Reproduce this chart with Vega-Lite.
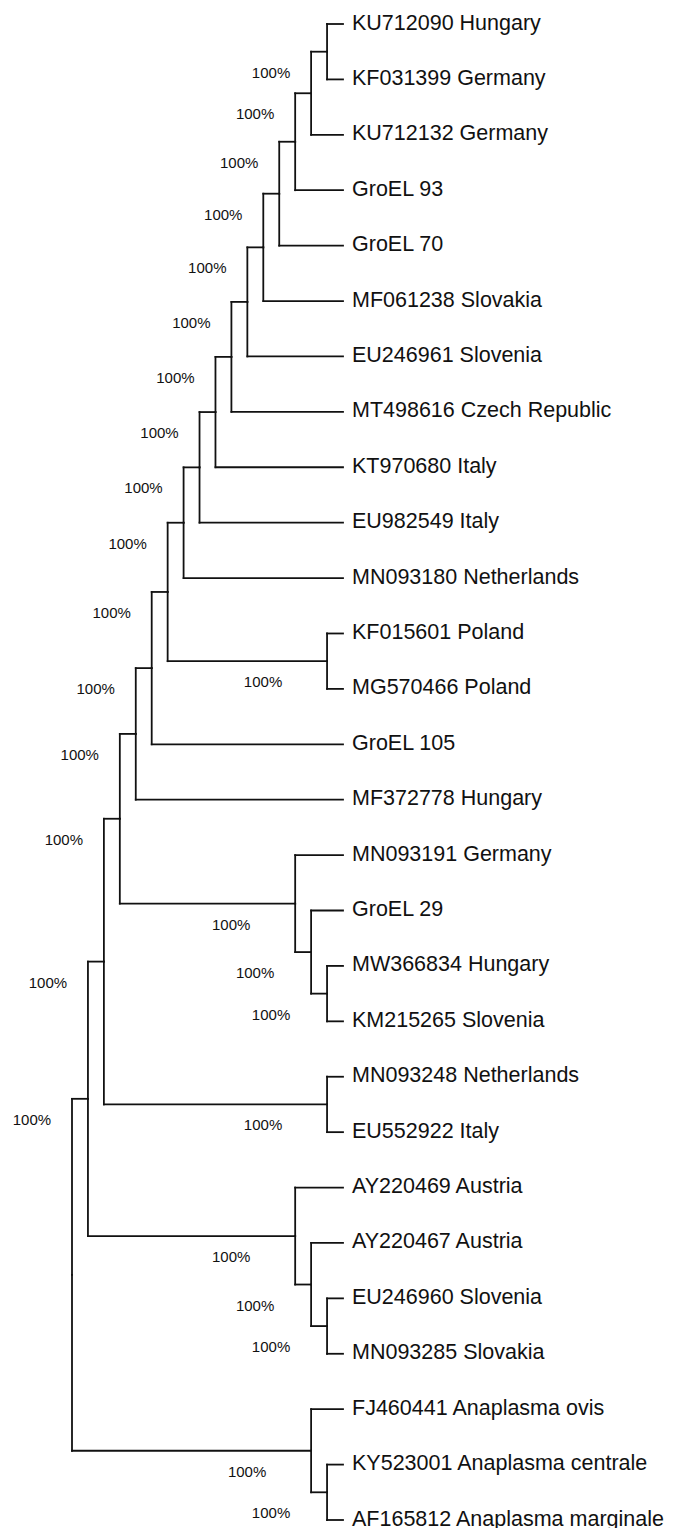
{
  "$schema": "https://vega.github.io/schema/vega-lite/v6.json",
  "width": 271,
  "height": 1496,
  "autosize": "none",
  "padding": {"left": 72, "top": 24, "right": 331, "bottom": 8},
  "background": "white",
  "config": {"view": {"stroke": null}},
  "data": {
    "values": [
      {"id": "KU712090", "name": "KU712090 Hungary", "type": "leaf", "level": 17, "row": 0, "pLevel": 16, "pRow": 0.5},
      {"id": "KF031399", "name": "KF031399 Germany", "type": "leaf", "level": 17, "row": 1, "pLevel": 16, "pRow": 0.5},
      {"id": "KU712132", "name": "KU712132 Germany", "type": "leaf", "level": 17, "row": 2, "pLevel": 15, "pRow": 1.25},
      {"id": "GroEL93", "name": "GroEL 93", "type": "leaf", "level": 17, "row": 3, "pLevel": 14, "pRow": 2.125},
      {"id": "GroEL70", "name": "GroEL 70", "type": "leaf", "level": 17, "row": 4, "pLevel": 13, "pRow": 3.0625},
      {"id": "MF061238", "name": "MF061238 Slovakia", "type": "leaf", "level": 17, "row": 5, "pLevel": 12, "pRow": 4.03125},
      {"id": "EU246961", "name": "EU246961 Slovenia", "type": "leaf", "level": 17, "row": 6, "pLevel": 11, "pRow": 5.015625},
      {"id": "MT498616", "name": "MT498616 Czech Republic", "type": "leaf", "level": 17, "row": 7, "pLevel": 10, "pRow": 6.0078},
      {"id": "KT970680", "name": "KT970680 Italy", "type": "leaf", "level": 17, "row": 8, "pLevel": 9, "pRow": 7.0039},
      {"id": "EU982549", "name": "EU982549 Italy", "type": "leaf", "level": 17, "row": 9, "pLevel": 8, "pRow": 8.00195},
      {"id": "MN093180", "name": "MN093180 Netherlands", "type": "leaf", "level": 17, "row": 10, "pLevel": 7, "pRow": 9.00098},
      {"id": "KF015601", "name": "KF015601 Poland", "type": "leaf", "level": 17, "row": 11, "pLevel": 16, "pRow": 11.5},
      {"id": "MG570466", "name": "MG570466 Poland", "type": "leaf", "level": 17, "row": 12, "pLevel": 16, "pRow": 11.5},
      {"id": "GroEL105", "name": "GroEL 105", "type": "leaf", "level": 17, "row": 13, "pLevel": 5, "pRow": 11.6252},
      {"id": "MF372778", "name": "MF372778 Hungary", "type": "leaf", "level": 17, "row": 14, "pLevel": 4, "pRow": 12.8126},
      {"id": "MN093191", "name": "MN093191 Germany", "type": "leaf", "level": 17, "row": 15, "pLevel": 14, "pRow": 15.875},
      {"id": "GroEL29", "name": "GroEL 29", "type": "leaf", "level": 17, "row": 16, "pLevel": 15, "pRow": 16.75},
      {"id": "MW366834", "name": "MW366834 Hungary", "type": "leaf", "level": 17, "row": 17, "pLevel": 16, "pRow": 17.5},
      {"id": "KM215265", "name": "KM215265 Slovenia", "type": "leaf", "level": 17, "row": 18, "pLevel": 16, "pRow": 17.5},
      {"id": "MN093248", "name": "MN093248 Netherlands", "type": "leaf", "level": 17, "row": 19, "pLevel": 16, "pRow": 19.5},
      {"id": "EU552922", "name": "EU552922 Italy", "type": "leaf", "level": 17, "row": 20, "pLevel": 16, "pRow": 19.5},
      {"id": "AY220469", "name": "AY220469 Austria", "type": "leaf", "level": 17, "row": 21, "pLevel": 14, "pRow": 21.875},
      {"id": "AY220467", "name": "AY220467 Austria", "type": "leaf", "level": 17, "row": 22, "pLevel": 15, "pRow": 22.75},
      {"id": "EU246960", "name": "EU246960 Slovenia", "type": "leaf", "level": 17, "row": 23, "pLevel": 16, "pRow": 23.5},
      {"id": "MN093285", "name": "MN093285 Slovakia", "type": "leaf", "level": 17, "row": 24, "pLevel": 16, "pRow": 23.5},
      {"id": "FJ460441", "name": "FJ460441 Anaplasma ovis", "type": "leaf", "level": 17, "row": 25, "pLevel": 15, "pRow": 25.75},
      {"id": "KY523001", "name": "KY523001 Anaplasma centrale", "type": "leaf", "level": 17, "row": 26, "pLevel": 16, "pRow": 26.5},
      {"id": "AF165812", "name": "AF165812 Anaplasma marginale", "type": "leaf", "level": 17, "row": 27, "pLevel": 16, "pRow": 26.5},
      {"id": "A", "type": "node", "support": "100%", "level": 16, "row": 0.5, "pLevel": 15, "pRow": 1.25},
      {"id": "B", "type": "node", "support": "100%", "level": 15, "row": 1.25, "pLevel": 14, "pRow": 2.125},
      {"id": "C", "type": "node", "support": "100%", "level": 14, "row": 2.125, "pLevel": 13, "pRow": 3.0625},
      {"id": "D", "type": "node", "support": "100%", "level": 13, "row": 3.0625, "pLevel": 12, "pRow": 4.03125},
      {"id": "E", "type": "node", "support": "100%", "level": 12, "row": 4.03125, "pLevel": 11, "pRow": 5.015625},
      {"id": "F", "type": "node", "support": "100%", "level": 11, "row": 5.015625, "pLevel": 10, "pRow": 6.0078},
      {"id": "G", "type": "node", "support": "100%", "level": 10, "row": 6.0078, "pLevel": 9, "pRow": 7.0039},
      {"id": "H", "type": "node", "support": "100%", "level": 9, "row": 7.0039, "pLevel": 8, "pRow": 8.00195},
      {"id": "I", "type": "node", "support": "100%", "level": 8, "row": 8.00195, "pLevel": 7, "pRow": 9.00098},
      {"id": "J", "type": "node", "support": "100%", "level": 7, "row": 9.00098, "pLevel": 6, "pRow": 10.2505},
      {"id": "P", "type": "node", "support": "100%", "level": 16, "row": 11.5, "pLevel": 6, "pRow": 10.2505},
      {"id": "K", "type": "node", "support": "100%", "level": 6, "row": 10.2505, "pLevel": 5, "pRow": 11.6252},
      {"id": "L", "type": "node", "support": "100%", "level": 5, "row": 11.6252, "pLevel": 4, "pRow": 12.8126},
      {"id": "M", "type": "node", "support": "100%", "level": 4, "row": 12.8126, "pLevel": 3, "pRow": 14.3438},
      {"id": "Q1", "type": "node", "support": "100%", "level": 16, "row": 17.5, "pLevel": 15, "pRow": 16.75},
      {"id": "Q2", "type": "node", "support": "100%", "level": 15, "row": 16.75, "pLevel": 14, "pRow": 15.875},
      {"id": "Q", "type": "node", "support": "100%", "level": 14, "row": 15.875, "pLevel": 3, "pRow": 14.3438},
      {"id": "N", "type": "node", "support": "100%", "level": 3, "row": 14.3438, "pLevel": 2, "pRow": 16.9219},
      {"id": "R", "type": "node", "support": "100%", "level": 16, "row": 19.5, "pLevel": 2, "pRow": 16.9219},
      {"id": "O", "type": "node", "support": "100%", "level": 2, "row": 16.9219, "pLevel": 1, "pRow": 19.3984},
      {"id": "S1", "type": "node", "support": "100%", "level": 16, "row": 23.5, "pLevel": 15, "pRow": 22.75},
      {"id": "S2", "type": "node", "support": "100%", "level": 15, "row": 22.75, "pLevel": 14, "pRow": 21.875},
      {"id": "S", "type": "node", "support": "100%", "level": 14, "row": 21.875, "pLevel": 1, "pRow": 19.3984},
      {"id": "T", "type": "node", "support": "100%", "level": 1, "row": 19.3984, "pLevel": 0, "pRow": 22.5742},
      {"id": "U1", "type": "node", "support": "100%", "level": 16, "row": 26.5, "pLevel": 15, "pRow": 25.75},
      {"id": "U", "type": "node", "support": "100%", "level": 15, "row": 25.75, "pLevel": 0, "pRow": 22.5742}
    ]
  },
  "layer": [
    {
      "mark": {"type": "rule", "color": "#111111", "strokeWidth": 1.8, "strokeCap": "square"},
      "encoding": {
        "x": {"field": "pLevel", "type": "quantitative", "scale": {"domain": [0, 17], "range": [0, 271], "nice": false, "zero": false}, "axis": null},
        "x2": {"field": "level"},
        "y": {"field": "row", "type": "quantitative", "scale": {"domain": [0, 27], "range": [0, 1496], "nice": false, "zero": false}, "axis": null}
      }
    },
    {
      "mark": {"type": "rule", "color": "#111111", "strokeWidth": 1.8, "strokeCap": "square"},
      "encoding": {
        "x": {"field": "pLevel", "type": "quantitative"},
        "y": {"field": "pRow", "type": "quantitative"},
        "y2": {"field": "row"}
      }
    },
    {
      "transform": [{"filter": "datum.type == 'leaf'"}],
      "mark": {"type": "text", "align": "left", "baseline": "middle", "dx": 9, "dy": -0.5, "font": "Liberation Sans", "fontSize": 21.5, "color": "#111111"},
      "encoding": {
        "x": {"field": "level", "type": "quantitative"},
        "y": {"field": "row", "type": "quantitative"},
        "text": {"field": "name"}
      }
    },
    {
      "transform": [{"filter": "datum.type == 'node' && datum.level - datum.pLevel == 1"}],
      "mark": {"type": "text", "align": "center", "baseline": "alphabetic", "dx": -56, "dy": 26, "font": "Liberation Sans", "fontSize": 15, "color": "#111111"},
      "encoding": {
        "x": {"field": "level", "type": "quantitative"},
        "y": {"field": "row", "type": "quantitative"},
        "text": {"field": "support"}
      }
    },
    {
      "transform": [{"filter": "datum.type == 'node' && datum.level - datum.pLevel > 1"}],
      "mark": {"type": "text", "align": "center", "baseline": "alphabetic", "dx": -64, "dy": 26, "font": "Liberation Sans", "fontSize": 15, "color": "#111111"},
      "encoding": {
        "x": {"field": "level", "type": "quantitative"},
        "y": {"field": "row", "type": "quantitative"},
        "text": {"field": "support"}
      }
    }
  ]
}
